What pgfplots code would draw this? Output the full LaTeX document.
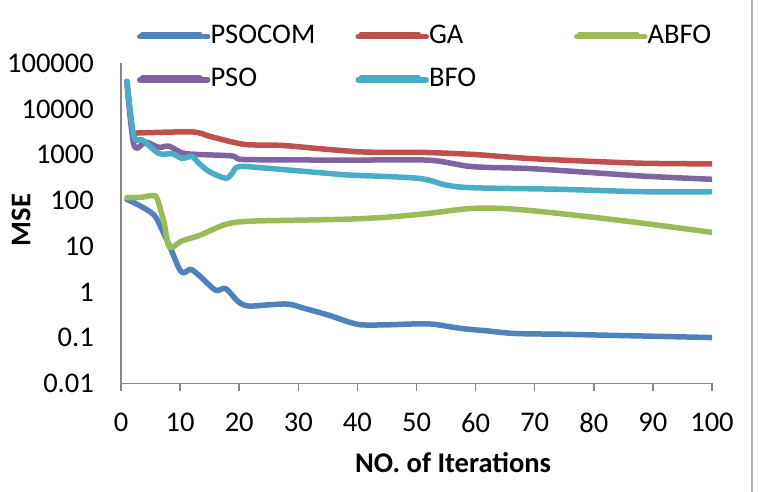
\documentclass[border=0pt]{standalone}
\usepackage{fontspec}
\setmainfont{Carlito}
\usepackage{pgfplots}
\pgfplotsset{compat=1.18}
\definecolor{cPSOCOM}{HTML}{4F81BD}
\definecolor{cGA}{HTML}{C0504D}
\definecolor{cABFO}{HTML}{9BBB59}
\definecolor{cPSO}{HTML}{8064A2}
\definecolor{cBFO}{HTML}{4BACC6}
\definecolor{axgray}{HTML}{868686}
\begin{document}
\fontsize{28.5bp}{34bp}\selectfont
\begin{tikzpicture}[x=1bp,y=1bp]
\useasboundingbox (0,0) rectangle (759,492);
\begin{axis}[
  at={(121bp,108.7bp)}, anchor=south west,
  scale only axis, width=591bp, height=320bp,
  xmin=0, xmax=100, ymode=log, ymin=0.01, ymax=100000,
  axis x line=bottom, axis y line=left,
  axis line style={-, draw=axgray, line width=1.5bp},
  xtick={0,10,20,30,40,50,60,70,80,90,100},
  xticklabels={0,10,20,30,40,50,60,70,80,90,100},
  ytick={0.01,0.1,1,10,100,1000,10000,100000},
  yticklabels={0.01,0.1,1,10,100,1000,10000,100000},
  tick align=outside,
  xtick style={draw=axgray, line width=1.5bp},
  major tick length=8bp,
  ytick style={draw=none},
  minor y tick num=0,
  /pgf/number format/assume math mode=true,
  yticklabel style={anchor=east, inner sep=0pt, xshift=-19bp},
  xticklabel style={anchor=north, inner sep=0pt, yshift=-22bp},
  xlabel={\bfseries NO. of Iterations},
  ylabel={\bfseries MSE},
  every axis y label/.style={at={(axis description cs:-0.1690,0.5103)}, rotate=90, anchor=center},
  every axis x label/.style={at={(axis description cs:0.5618,-0.249)}, anchor=center},
  legend columns=3,
  legend style={at={(axis description cs:0.02707,1.1245)}, anchor=north west,
    draw=none, fill=none, inner sep=0pt, outer sep=0pt,
    column sep=0pt, row sep=17.3bp,
    cells={anchor=west},
    nodes={inner sep=0pt, text height=20bp, text depth=6bp}},
  legend image code/.code={%
    \draw[#1, line cap=round] (3bp,2.2bp) -- (60bp,2.2bp);
    \path (0bp,0bp) -- (68bp,0bp);},
  every axis plot/.append style={line width=5.5bp, smooth, line join=round, line cap=round},
]
% PSOCOM
\addplot[color=cPSOCOM] coordinates {
(1,105) (3,79) (5.6,48) (7,22) (8.4,8.9) (9.8,3.3) (10.6,2.6) (11.8,3.1)
(13.2,2.3) (16,1.09) (17.7,1.18) (19.9,0.6) (21.6,0.49) (25,0.52) (28.3,0.54)
(31.2,0.43) (35.1,0.31) (38.5,0.22) (40.7,0.19) (45,0.19) (50.3,0.2) (53,0.195)
(57.6,0.158) (62,0.14) (66.6,0.123) (75,0.118) (82.9,0.112) (90,0.107) (100,0.1)};
\addlegendentry{\makebox[145bp][l]{PSOCOM}}
% GA
\addplot[color=cGA] coordinates {
(1,40000) (2,3000) (3,3000) (12,3150) (14.9,2550) (18.8,1900) (21.6,1650)
(27.2,1600) (32.9,1380) (38.5,1200) (40.7,1150) (45,1120) (50.3,1130) (55,1080)
(60.4,1000) (68.8,830) (78,730) (88.5,650) (100,630)};
\addlegendentry{\makebox[145bp][l]{GA}}
% ABFO
\addplot[color=cABFO] coordinates {
(1,115) (3.6,118) (5.3,128) (6.1,110) (7.3,32) (8.2,9.5) (10.3,13) (13.2,17)
(17.7,30) (21.6,35) (30,37) (38.5,39) (45,43) (52,52) (58.7,66) (64.3,67)
(71.7,56) (85.7,35) (100,20)};
\addlegendentry{ABFO}
% PSO
\addplot[color=cPSO] coordinates {
(1,40000) (2.2,1620) (4.2,1900) (6.4,1450) (8.1,1540) (10.3,1100) (12.6,1020)
(18.8,940) (20.5,790) (30,770) (38.5,760) (52,760) (59.3,550) (68.8,500)
(78,420) (88.5,340) (100,290)};
\addlegendentry{\makebox[145bp][l]{PSO}}
% BFO
\addplot[color=cBFO] coordinates {
(1,40000) (1.9,4000) (2.5,2100) (3.6,2100) (6.4,1070) (8.7,1050) (10.3,830)
(12,910) (13.2,650) (14.9,430) (17.7,305) (18.8,390) (19.9,550) (24.4,510)
(35.1,390) (38.5,360) (50.3,305) (54.8,220) (59.3,190) (74.5,175) (88.5,155)
(100,155)};
\addlegendentry{\makebox[145bp][l]{BFO}}
\end{axis}
\draw[color=black!30, line width=2bp] (752,0) -- (752,492);
\end{tikzpicture}
\end{document}
